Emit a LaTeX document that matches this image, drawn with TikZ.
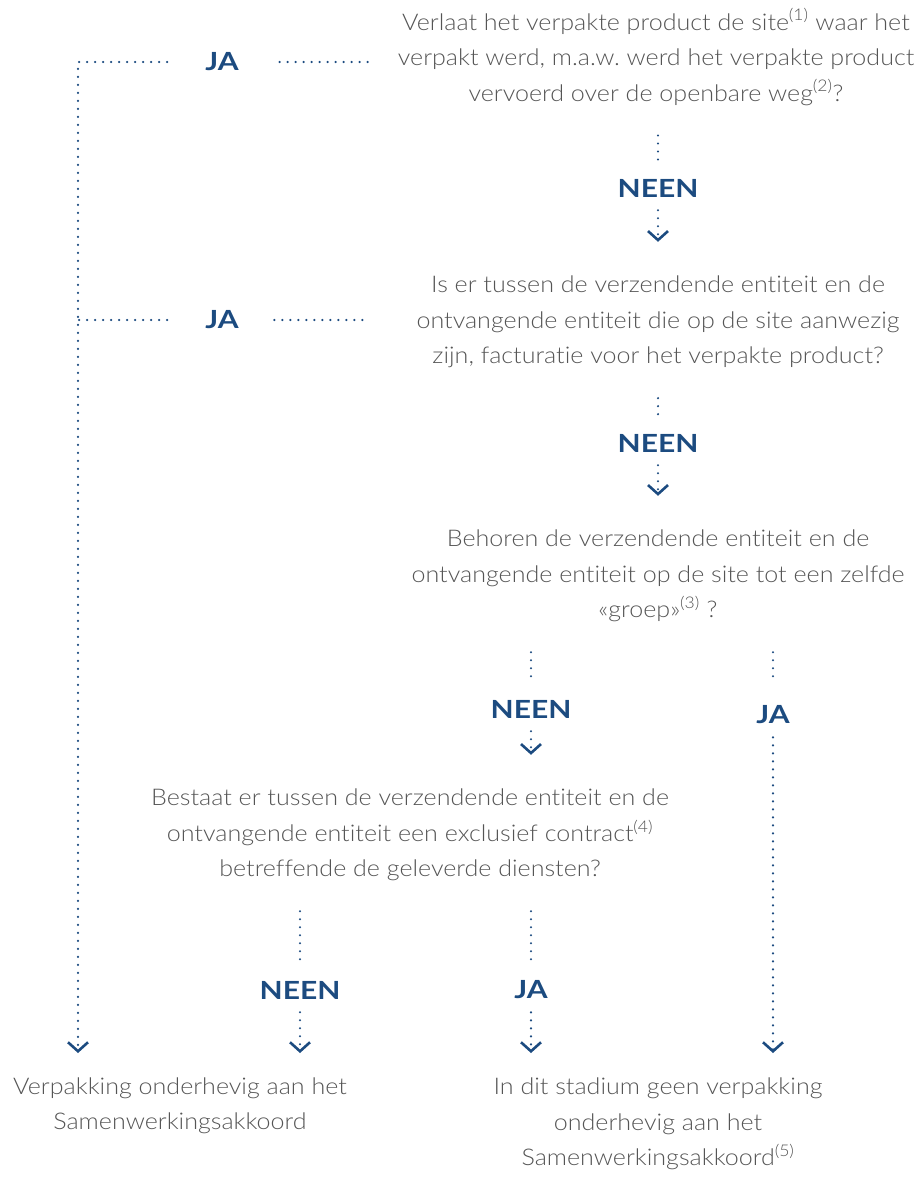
\documentclass[tikz,border=0pt]{standalone}
\usepackage{fontspec}
\setmainfont{Lato}[UprightFont=* Light, BoldFont=* Bold, FakeStretch=1.09, RawFeature={-liga}]
\newfontfamily\ansfont{Lato}[UprightFont=* Bold, FakeStretch=1.2]
\usetikzlibrary{arrows.meta}
\definecolor{ablue}{HTML}{1C4B80}
\definecolor{tgray}{HTML}{555555}
\tikzset{
  question/.style={align=center, text=tgray, inner sep=0pt, font=\fontsize{23}{35.5}\selectfont},
  result/.style={question},
  answer/.style={text=ablue, inner sep=0pt, font=\fontsize{25}{25}\ansfont},
  dots/.style={draw=ablue, line width=2.4pt, line cap=round, dash pattern=on 0pt off 8pt},
  tip/.style={-{Straight Barb[length=9pt, width=20pt, line width=2.6pt]}}
}
\newcommand{\fn}[1]{\textsuperscript{(#1)}}
\frenchspacing
\begin{document}
\begin{tikzpicture}[x=1pt, y=-1pt]
\useasboundingbox (0,0) rectangle (917,1200);
% questions
\node[question] (q1) at (656,57) {Verlaat het verpakte product de site\fn{1} waar het\\verpakt werd, m.a.w. werd het verpakte product\\vervoerd over de openbare weg\fn{2}?};
\node[question] (q2) at (658,322) {Is er tussen de verzendende entiteit en de\\ontvangende entiteit die op de site aanwezig\\zijn, facturatie voor het verpakte product?};
\node[question] (q3) at (658,576) {Behoren de verzendende entiteit en de\\ontvangende entiteit op de site tot een zelfde\\«groep»\fn{3} ?};
\node[question] (q4) at (410,835) {Bestaat er tussen de verzendende entiteit en de\\ontvangende entiteit een exclusief contract\fn{4}\\betreffende de geleverde diensten?};
% answers
\node[answer] (j1) at (222,62) {JA};
\node[answer] (n1) at (658,188) {NEEN};
\node[answer] (j2) at (222,320) {JA};
\node[answer] (n2) at (658,443) {NEEN};
\node[answer] (n3) at (531,709) {NEEN};
\node[answer] (j3) at (773,715) {JA};
\node[answer] (n4) at (300,990) {NEEN};
\node[answer] (j4) at (531,990) {JA};
% results
\node[result] (r1) at (180,1106) {Verpakking onderhevig aan het\\Samenwerkingsakkoord};
\node[result] (r2) at (658,1124) {In dit stadium geen verpakking\\onderhevig aan het\\Samenwerkingsakkoord\fn{5}};
\coordinate (c1) at (78,62);
\coordinate (c2) at (78,320);
\coordinate (e1) at (78,1053);
\coordinate (e2) at (300,1053);
\coordinate (e3) at (531,1053);
\coordinate (e4) at (773,1053);
% connectors
\draw[dots, shorten <=30pt, shorten >=16pt] (q1.south -| n1) -- (n1);
\draw[dots, tip, shorten <=13pt, shorten >=34pt] (n1) -- (q2);
\draw[dots, shorten <=30pt, shorten >=16pt] (q2) -- (n2);
\draw[dots, tip, shorten <=13pt, shorten >=34pt] (n2) -- (q3);
\draw[dots, shorten <=30pt, shorten >=16pt] (q3.south -| n3) -- (n3);
\draw[dots, tip, shorten <=13pt, shorten >=34pt] (n3) -- (q4.north -| n3);
\draw[dots, shorten <=30pt, shorten >=22pt] (q3.south -| j3) -- (j3);
\draw[dots, tip, shorten <=13pt] (j3) -- (e4);
\draw[dots, shorten <=30pt, shorten >=16pt] (q4.south -| n4) -- (n4);
\draw[dots, tip, shorten <=13pt] (n4) -- (e2);
\draw[dots, shorten <=30pt, shorten >=16pt] (q4.south -| j4) -- (j4);
\draw[dots, tip, shorten <=13pt] (j4) -- (e3);
\draw[dots, shorten <=30pt, shorten >=33pt] (q1.west |- j1) -- (j1);
\draw[dots, tip, shorten <=38pt] (j1) -- (c1) -- (e1);
\draw[dots, shorten <=54pt, shorten >=33pt] (q2.west |- j2) -- (j2);
\draw[dots, shorten <=38pt] (j2) -- (c2);
\end{tikzpicture}
\end{document}
